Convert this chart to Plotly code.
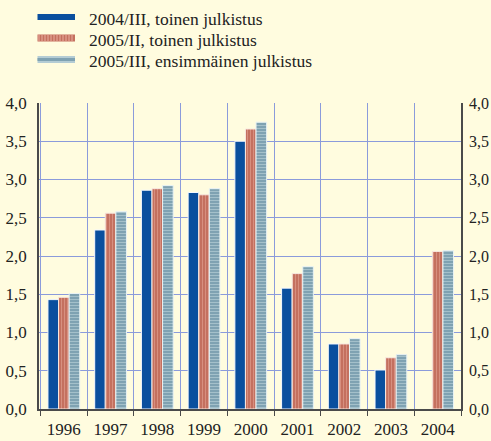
import plotly.graph_objects as go

# Vuodet ja kolmen julkistuksen arvot
years = ["1996", "1997", "1998", "1999", "2000", "2001", "2002", "2003", "2004"]
v_2004_III = [1.43, 2.34, 2.86, 2.83, 3.50, 1.58, 0.85, 0.51, None]
v_2005_II = [1.46, 2.56, 2.88, 2.80, 3.66, 1.77, 0.85, 0.67, 2.06]
v_2005_III = [1.51, 2.58, 2.92, 2.88, 3.75, 1.86, 0.92, 0.71, 2.07]
series_names = [
    "2004/III, toinen julkistus",
    "2005/II, toinen julkistus",
    "2005/III, ensimmäinen julkistus",
]
y_ticks = [0, 0.5, 1.0, 1.5, 2.0, 2.5, 3.0, 3.5, 4.0]
y_ticktext = ["0,0", "0,5", "1,0", "1,5", "2,0", "2,5", "3,0", "3,5", "4,0"]

W, H = 491, 441
ML, MR, MT, MB = 39, 30, 103, 32
BG = "#fffcdf"
GRID = "#8b9bdb"
AXIS = "#4a4a4a"
FONT = "'Liberation Serif', 'Times New Roman', Times, serif"
TXT = "#222222"

BLUE = "#0a4f9e"
RED_BG, RED_FG = "#c4705f", "#eaada0"
TEAL_BG, TEAL_FG = "#7fa2b2", "#c9dde2"

fig = go.Figure()
fig.add_trace(go.Bar(
    x=years, y=v_2004_III, name=series_names[0],
    marker=dict(color=BLUE, line=dict(color="#f4f8ff", width=1)),
))
fig.add_trace(go.Bar(
    x=years, y=v_2005_II, name=series_names[1],
    marker=dict(color=RED_BG, line=dict(color="#f8e8e0", width=1),
                pattern=dict(shape="|", bgcolor=RED_BG, fgcolor=RED_FG,
                             size=3, solidity=0.35)),
))
fig.add_trace(go.Bar(
    x=years, y=v_2005_III, name=series_names[2],
    marker=dict(color=TEAL_BG, line=dict(color="#e8f2f4", width=1),
                pattern=dict(shape="-", bgcolor=TEAL_BG, fgcolor=TEAL_FG,
                             size=3, solidity=0.35)),
))
# apusarja oikeanpuoleista akselia varten
fig.add_trace(go.Scatter(x=[years[0]], y=[0], yaxis="y2", mode="markers",
                         marker=dict(opacity=0), hoverinfo="skip", showlegend=False))

plot_w = W - ML - MR
plot_h = H - MT - MB


def px_x(px):
    return (px - ML) / plot_w


def px_y(py):
    return (H - MB - py) / plot_h


# Selite piirrettynä muodoilla ja teksteillä
shapes = []
annotations = []
sx0, sx1 = 37.5, 75
rows = [(14, 20), (34.5, 41.5), (56, 63)]
# sininen
shapes.append(dict(type="rect", xref="paper", yref="paper", x0=px_x(sx0), x1=px_x(sx1),
                   y0=px_y(rows[0][1]), y1=px_y(rows[0][0]), fillcolor=BLUE,
                   line=dict(width=0), layer="above"))
# punainen pystyraidoin
shapes.append(dict(type="rect", xref="paper", yref="paper", x0=px_x(sx0), x1=px_x(sx1),
                   y0=px_y(rows[1][1]), y1=px_y(rows[1][0]), fillcolor=RED_BG,
                   line=dict(width=0), layer="above"))
sx = sx0 + 1.5
while sx < sx1:
    shapes.append(dict(type="line", xref="paper", yref="paper", x0=px_x(sx), x1=px_x(sx),
                       y0=px_y(rows[1][1]), y1=px_y(rows[1][0]),
                       line=dict(color=RED_FG, width=1), layer="above"))
    sx += 3
# sinertävä vaakaraidoin
shapes.append(dict(type="rect", xref="paper", yref="paper", x0=px_x(sx0), x1=px_x(sx1),
                   y0=px_y(rows[2][1]), y1=px_y(rows[2][0]), fillcolor="#b4ccd4",
                   line=dict(width=0), layer="above"))
shapes.append(dict(type="rect", xref="paper", yref="paper", x0=px_x(sx0), x1=px_x(sx1),
                   y0=px_y(61), y1=px_y(58), fillcolor=TEAL_BG,
                   line=dict(width=0), layer="above"))
for (r0, r1), name in zip(rows, series_names):
    annotations.append(dict(text=name, xref="paper", yref="paper", x=px_x(87),
                            y=px_y((r0 + r1) / 2 + 1.5), xanchor="left", yanchor="middle",
                            showarrow=False, font=dict(family=FONT, size=17.5, color=TXT)))

tick_font = dict(family=FONT, size=17, color=TXT)

fig.update_layout(
    width=W, height=H,
    margin=dict(l=ML, r=MR, t=MT, b=MB, autoexpand=False),
    paper_bgcolor=BG, plot_bgcolor=BG,
    barmode="group", bargap=0.32, bargroupgap=0,
    showlegend=False,
    font=dict(family=FONT, size=16, color=TXT),
    shapes=shapes, annotations=annotations,
    xaxis=dict(type="category", categoryorder="array", categoryarray=years,
               tickson="boundaries", ticks="outside", ticklen=5, tickcolor=AXIS,
               showline=True, linecolor=AXIS, linewidth=1.5,
               showgrid=True, gridcolor=GRID, gridwidth=1,
               ticklabelstandoff=4, automargin=False,
               tickfont=tick_font),
    yaxis=dict(range=[0, 4], tickvals=y_ticks, ticktext=y_ticktext,
               showgrid=True, gridcolor=GRID, gridwidth=1, zeroline=False,
               showline=True, linecolor=AXIS, linewidth=1.5, ticks="",
               ticklabelstandoff=7, automargin=False,
               tickfont=tick_font),
    yaxis2=dict(range=[0, 4], tickvals=y_ticks, ticktext=y_ticktext,
                overlaying="y", side="right", showgrid=False, zeroline=False,
                showline=True, linecolor=AXIS, linewidth=1.5, ticks="",
                ticklabelstandoff=3, automargin=False,
                tickfont=dict(family=FONT, size=16, color=TXT)),
)

fig.write_html("out.html")
